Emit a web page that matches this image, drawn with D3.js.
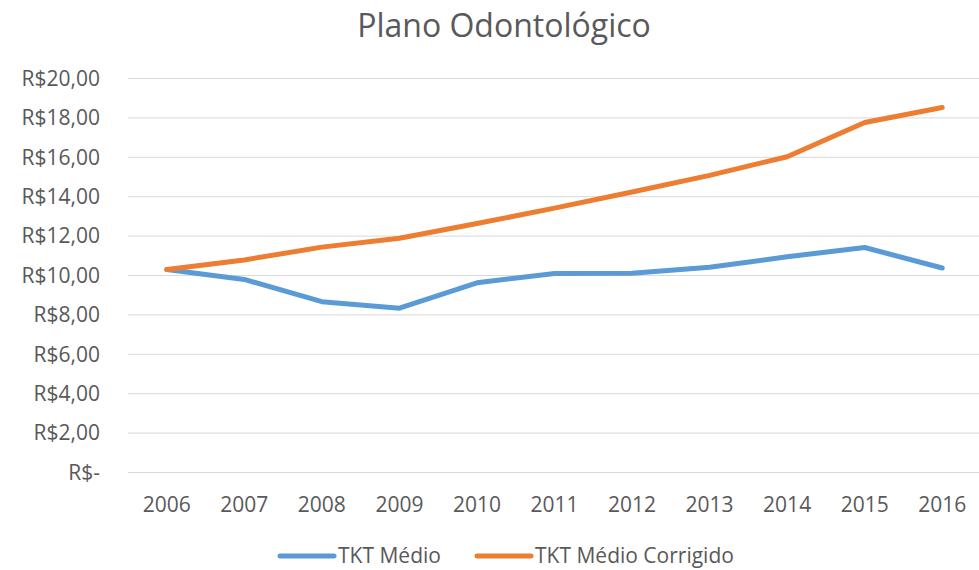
<!DOCTYPE html>
<html>
<head>
<meta charset="utf-8">
<script src="https://cdn.jsdelivr.net/npm/d3@7"></script>
<style>
  body { margin: 0; background: #fff; }
  svg text { font-family: "Open Sans", "Noto Sans", sans-serif; fill: #595959; }
</style>
</head>
<body>
<svg id="chart" width="979" height="570"></svg>
<script>
const years = ["2006", "2007", "2008", "2009", "2010", "2011", "2012", "2013", "2014", "2015", "2016"];
const tktMedio = [10.30, 9.80, 8.67, 8.34, 9.63, 10.10, 10.12, 10.42, 10.95, 11.42, 10.38];
const tktCorrigido = [10.30, 10.79, 11.44, 11.89, 12.64, 13.42, 14.24, 15.08, 16.03, 17.77, 18.53];
const yTicks = [0, 2, 4, 6, 8, 10, 12, 14, 16, 18, 20];
const seriesNames = ["TKT Médio", "TKT Médio Corrigido"];
const colors = ["#5B9BD5", "#ED7D31"];

const svg = d3.select('#chart');

const x = d3.scaleBand()
    .domain(years)
    .range([128, 981]);

const y = d3.scaleLinear()
    .domain([0, 20])
    .range([472.5, 78.5]);

const fmt = v => v === 0 ? 'R$-' : 'R$' + d3.format('.2f')(v).replace('.', ',');

// title
svg.append('text')
  .attr('x', 504)
  .attr('y', 37)
  .attr('text-anchor', 'middle')
  .style('font-size', '32px')
  .text('Plano Odontológico');

// grid lines
svg.append('g')
  .selectAll('line')
  .data(yTicks)
  .enter()
  .append('line')
  .attr('x1', x.range()[0])
  .attr('x2', x.range()[1])
  .attr('y1', d => y(d))
  .attr('y2', d => y(d))
  .style('stroke', '#d9d9d9')
  .style('stroke-width', 1);

// y labels
svg.append('g')
  .selectAll('text')
  .data(yTicks)
  .enter()
  .append('text')
  .attr('x', 100)
  .attr('y', d => y(d))
  .attr('dy', '0.35em')
  .attr('text-anchor', 'end')
  .style('font-size', '21px')
  .text(fmt);

// x labels
svg.append('g')
  .selectAll('text')
  .data(years)
  .enter()
  .append('text')
  .attr('x', d => x(d) + x.bandwidth() / 2)
  .attr('y', 505)
  .attr('dy', '0.35em')
  .attr('text-anchor', 'middle')
  .style('font-size', '21px')
  .text(d => d);

const line = d3.line()
  .x((d, i) => x(years[i]) + x.bandwidth() / 2)
  .y(d => y(d));

svg.append('g')
  .selectAll('path')
  .data([tktMedio, tktCorrigido])
  .enter()
  .append('path')
  .attr('d', line)
  .style('fill', 'none')
  .style('stroke', (d, i) => colors[i])
  .style('stroke-width', 5)
  .style('stroke-linecap', 'round')
  .style('stroke-linejoin', 'round');

// legend
const legendX = [280, 477];
const lg = svg.append('g')
  .selectAll('g')
  .data(seriesNames)
  .enter()
  .append('g')
  .attr('transform', (d, i) => `translate(${legendX[i]}, 556)`);

lg.append('line')
  .attr('x1', 0)
  .attr('x2', 54)
  .style('stroke', (d, i) => colors[i])
  .style('stroke-width', 5)
  .style('stroke-linecap', 'round');

lg.append('text')
  .attr('x', 58)
  .attr('dy', '0.35em')
  .style('font-size', '21px')
  .text(d => d);
</script>
</body>
</html>
